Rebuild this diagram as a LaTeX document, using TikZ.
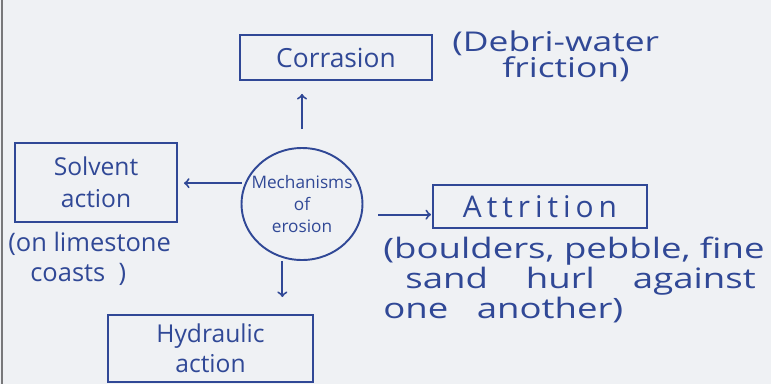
\documentclass[tikz,border=0pt]{standalone}
\usepackage{fontspec}
\setmainfont{Open Sans}
\newfontfamily\widehand[FakeStretch=1.3]{Open Sans}
\usetikzlibrary{shapes.geometric}

\definecolor{inkblue}{RGB}{48,72,150}
\definecolor{paper}{RGB}{239,241,244}
\definecolor{pageedge}{RGB}{120,120,122}

\tikzset{
  ink/.style={draw=inkblue, line width=1.1pt},
  mechbox/.style={ink, rectangle, inner sep=0pt, text=inkblue, align=center},
  hub/.style={ink, ellipse, inner xsep=-2.6mm, inner ysep=0pt, text=inkblue, align=center,
    minimum width=24.2mm, minimum height=22.4mm, font=\fontsize{9.8}{12.5}\selectfont},
  jot/.style={text=inkblue, align=left, inner sep=0pt},
  jotarrow/.style={ink, ->}
}

\begin{document}
\begin{tikzpicture}[x=0.2mm, y=-0.2mm]
  % page
  \fill[paper] (0,0) rectangle (771,384);
  \useasboundingbox (0,0) rectangle (771,384);
  \draw[pageedge, line width=1.2pt] (2,0) -- (2,384);

  % centre
  \node[hub] (hub) at (302,204) {Mechanisms\\of\\erosion};

  % the four mechanisms
  \node[mechbox, minimum width=38.4mm, minimum height=9mm,
    font=\fontsize{15}{18}\selectfont] (corrasion) at (336,57.5) {Corrasion};
  \node[mechbox, minimum width=32.4mm, minimum height=15.8mm,
    font=\fontsize{14}{18}\selectfont] (solvent) at (96,182.5) {Solvent\\action};
  \node[mechbox, minimum width=42.8mm, minimum height=8.6mm,
    font=\fontsize{17}{20}\selectfont] (attrition) at (540,206.5) {A\,t\,t\,r\,i\,t\,i\,o\,n};
  \node[mechbox, minimum width=41mm, minimum height=13.4mm,
    font=\fontsize{14}{17}\selectfont] (hydraulic) at (210.5,348.5) {Hydraulic\\action};

  % notes
  \node[jot, anchor=north west, font=\widehand\fontsize{15.5}{13}\selectfont] (corrasionnote) at (452,30)
    {(Debri-water\\\hspace{10mm}friction)};
  \node[jot, anchor=north west, font=\fontsize{14.5}{17}\selectfont] (solventnote) at (8,232)
    {(on limestone\\\hspace{4.4mm}coasts \ )};
  \node[jot, anchor=north west, font=\widehand\fontsize{16}{17}\selectfont] (attritionnote) at (383,237)
    {(boulders, pebble, fine\\\hspace{4.4mm}sand \ \ \ hurl \ \ \ against\\one \ \ another)};

  % arrows
  \draw[jotarrow, shorten <=3.6mm, shorten >=2.6mm] (hub.north) -- (hub.north |- corrasion.south);
  \draw[jotarrow, shorten <=0.6mm, shorten >=1.2mm] (hub.160) -- (hub.160 -| solvent.east);
  \draw[jotarrow, shorten <=3.2mm, shorten >=0.2mm] (hub.-10) -- (hub.-10 -| attrition.west);
  \draw[jotarrow, shorten <=0.6mm, shorten >=3.4mm] (hub.-110) -- (hub.-110 |- hydraulic.north);
\end{tikzpicture}
\end{document}
